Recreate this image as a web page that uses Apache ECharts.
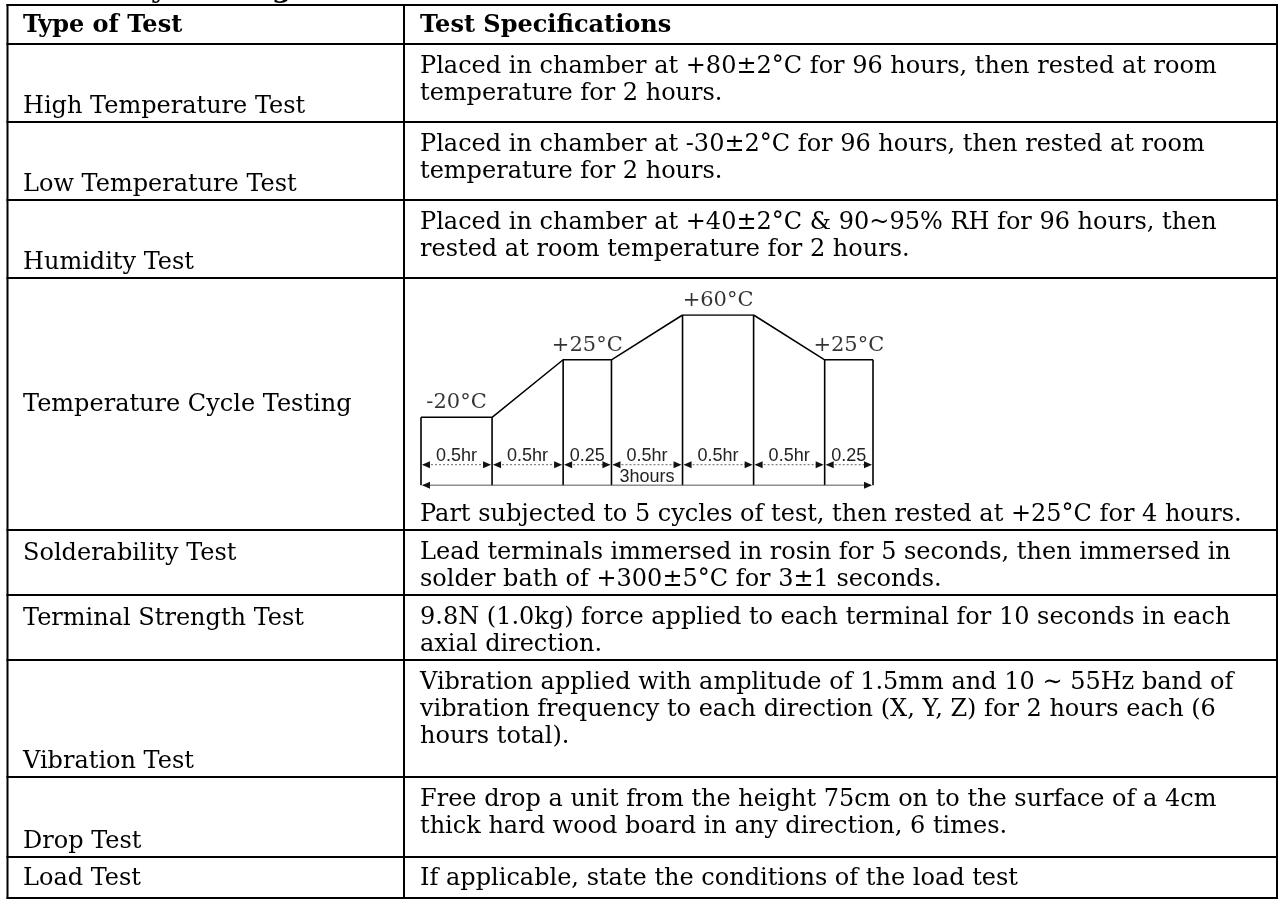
<!DOCTYPE html>
<html>
<head>
<meta charset="utf-8">
<script src="https://cdn.jsdelivr.net/npm/echarts@6/dist/echarts.min.js"></script>
<style>
  html, body { margin: 0; padding: 0; background: #fff; }
  #chart-container { width: 1279px; height: 899px; }
</style>
</head>
<body>
<div id="chart-container"></div>
<script>
// table content
var pageTitle = 'Reliability Testing';
var headers = ['Type of Test', 'Test Specifications'];
var testTypes = [
  'High Temperature Test',
  'Low Temperature Test',
  'Humidity Test',
  'Temperature Cycle Testing',
  'Solderability Test',
  'Terminal Strength Test',
  'Vibration Test',
  'Drop Test',
  'Load Test'
];
var testSpecs = [
  ['Placed in chamber at +80±2°C for 96 hours, then rested at room', 'temperature for 2 hours.'],
  ['Placed in chamber at -30±2°C for 96 hours, then rested at room', 'temperature for 2 hours.'],
  ['Placed in chamber at +40±2°C & 90~95% RH for 96 hours, then', 'rested at room temperature for 2 hours.'],
  ['Part subjected to 5 cycles of test, then rested at +25°C for 4 hours.'],
  ['Lead terminals immersed in rosin for 5 seconds, then immersed in', 'solder bath of +300±5°C for 3±1 seconds.'],
  ['9.8N (1.0kg) force applied to each terminal for 10 seconds in each', 'axial direction.'],
  ['Vibration applied with amplitude of 1.5mm and 10 \u223c 55Hz band of', 'vibration frequency to each direction (X, Y, Z) for 2 hours each (6', 'hours total).'],
  ['Free drop a unit from the height 75cm on to the surface of a 4cm', 'thick hard wood board in any direction, 6 times.'],
  ['If applicable, state the conditions of the load test']
];

// temperature cycle profile (hour marks as drawn in the sketch)
var cycleEdges = [0, 0.5, 1.0, 1.34, 1.84, 2.34, 2.84, 3.18];
var cycleTemps = [-20, -20, 25, 25, 60, 60, 25, 25];
var stepLabels = ['0.5hr', '0.5hr', '0.25', '0.5hr', '0.5hr', '0.5hr', '0.25'];
var plateauSteps = [0, 2, 4, 6];
var plateauLabels = ['-20°C', '+25°C', '+60°C', '+25°C'];
var totalLabel = '3hours';

// layout (pixels)
var rowEdges = [5, 44, 122, 200, 278, 530, 595, 660, 777, 857, 898];
var labelPlace = ['bottom', 'bottom', 'bottom', 'middle', 'top', 'top', 'bottom', 'bottom', 'middle'];
var colX = { left: 7.5, mid: 404, right: 1277 };
var SERIF = '"DejaVu Serif", "Liberation Serif", serif';
var FS = 24;
var LINE_H = 27;

// levels on the sketch's temperature axis for annotations
var floorLevel = -73;
var arrowLevel = -57;
var stepTextLevel = -50;
var totalTextLevel = -67;

var elems = [];
function addLine(x1, y1, x2, y2) {
  elems.push({ type: 'line', silent: true, shape: { x1: x1, y1: y1, x2: x2, y2: y2 },
    style: { stroke: '#000', lineWidth: 2 } });
}
function addText(txt, x, y, bold) {
  elems.push({ type: 'text', silent: true, x: x, y: y,
    style: { text: txt, fill: '#000', font: (bold ? 'bold ' : '') + FS + 'px ' + SERIF,
      align: 'left', verticalAlign: 'middle', textAlign: 'left', textVerticalAlign: 'middle' } });
}

// title (mostly cut off above the page)
elems.push({ type: 'text', silent: true, x: 6, y: 4,
  style: { text: pageTitle, fill: '#000', font: 'bold 28px ' + SERIF,
    align: 'left', verticalAlign: 'bottom', textAlign: 'left', textVerticalAlign: 'bottom' } });

rowEdges.forEach(function (y) { addLine(colX.left - 1, y, colX.right + 1, y); });
[colX.left, colX.mid, colX.right].forEach(function (x) {
  addLine(x, rowEdges[0] - 1, x, rowEdges[rowEdges.length - 1] + 1);
});

addText(headers[0], 23, 26, true);
addText(headers[1], 420, 26, true);

testTypes.forEach(function (name, i) {
  var top = rowEdges[i + 1], bottom = rowEdges[i + 2];
  var ly;
  if (labelPlace[i] === 'bottom') ly = bottom - 15;
  else if (labelPlace[i] === 'middle') ly = (top + bottom) / 2 + 1;
  else ly = top + 24;
  addText(name, 23, ly, false);

  var lines = testSpecs[i];
  lines.forEach(function (t, k) {
    var y;
    if (name === 'Temperature Cycle Testing') y = bottom - 15;
    else if (lines.length === 1) y = (top + bottom) / 2 + 1;
    else y = top + 23 + k * LINE_H;
    addText(t, 420, y, false);
  });
});

function arrowHead(p, dir) {
  return { type: 'polygon', shape: { points: [[p[0], p[1]], [p[0] + dir * 8, p[1] - 3.5], [p[0] + dir * 8, p[1] + 3.5]] },
    style: { fill: '#111' } };
}

var dom = document.getElementById('chart-container');
var myChart = echarts.init(dom, null, { renderer: 'canvas' });

var option = {
  animation: false,
  backgroundColor: '#fff',
  graphic: { elements: elems },
  grid: { left: 421, top: 315, width: 452, height: 174 },
  xAxis: { type: 'value', min: 0, max: cycleEdges[cycleEdges.length - 1], show: false },
  yAxis: { type: 'value', min: -76, max: 60, show: false },
  series: [
    {
      name: 'profile',
      type: 'line',
      data: cycleEdges.map(function (x, k) { return [x, cycleTemps[k]]; }),
      symbol: 'none',
      lineStyle: { color: '#000', width: 1.5 },
      z: 3
    },
    {
      name: 'drops',
      type: 'custom',
      data: cycleEdges.map(function (x, k) { return [x, cycleTemps[k]]; }),
      renderItem: function (params, api) {
        var p1 = api.coord([api.value(0), api.value(1)]);
        var p2 = api.coord([api.value(0), floorLevel]);
        return { type: 'line', shape: { x1: p1[0], y1: p1[1], x2: p2[0], y2: p2[1] },
          style: { stroke: '#000', lineWidth: 1.6 } };
      },
      clip: false,
      z: 3
    },
    {
      name: 'steps',
      type: 'custom',
      data: stepLabels.map(function (s, i) { return [cycleEdges[i], cycleEdges[i + 1], i]; }),
      renderItem: function (params, api) {
        var a = api.coord([api.value(0), arrowLevel]);
        var b = api.coord([api.value(1), arrowLevel]);
        var t = api.coord([(api.value(0) + api.value(1)) / 2, stepTextLevel]);
        return { type: 'group', children: [
          { type: 'line', shape: { x1: a[0] + 2, y1: a[1], x2: b[0] - 2, y2: b[1] },
            style: { stroke: '#666', lineWidth: 1, lineDash: [2, 2] } },
          arrowHead([a[0] + 1, a[1]], 1),
          arrowHead([b[0] - 1, b[1]], -1),
          { type: 'text', x: t[0], y: t[1],
            style: { text: stepLabels[api.value(2)], fill: '#222', font: '18px "Liberation Sans", Arial, sans-serif',
              align: 'center', verticalAlign: 'middle', textAlign: 'center', textVerticalAlign: 'middle' } }
        ] };
      },
      clip: false,
      z: 4
    },
    {
      name: 'total',
      type: 'custom',
      data: [[cycleEdges[0], cycleEdges[cycleEdges.length - 1]]],
      renderItem: function (params, api) {
        var a = api.coord([api.value(0), floorLevel]);
        var b = api.coord([api.value(1), floorLevel]);
        var t = api.coord([(api.value(0) + api.value(1)) / 2, totalTextLevel]);
        return { type: 'group', children: [
          { type: 'line', shape: { x1: a[0] + 2, y1: a[1], x2: b[0] - 2, y2: b[1] },
            style: { stroke: '#555', lineWidth: 1 } },
          arrowHead([a[0] + 1, a[1]], 1),
          arrowHead([b[0] - 1, b[1]], -1),
          { type: 'text', x: t[0], y: t[1],
            style: { text: totalLabel, fill: '#222', font: '18px "Liberation Sans", Arial, sans-serif',
              align: 'center', verticalAlign: 'middle', textAlign: 'center', textVerticalAlign: 'middle' } }
        ] };
      },
      clip: false,
      z: 4
    },
    {
      name: 'plateaus',
      type: 'scatter',
      symbolSize: 0,
      data: plateauSteps.map(function (s, j) {
        return { value: [(cycleEdges[s] + cycleEdges[s + 1]) / 2, cycleTemps[s]], name: plateauLabels[j] };
      }),
      label: {
        show: true, position: 'top', distance: 4, formatter: '{b}',
        color: '#000', fontFamily: SERIF, fontSize: 21
      },
      silent: true,
      z: 5
    }
  ]
};

myChart.setOption(option);
window.addEventListener('resize', myChart.resize);
</script>
</body>
</html>
